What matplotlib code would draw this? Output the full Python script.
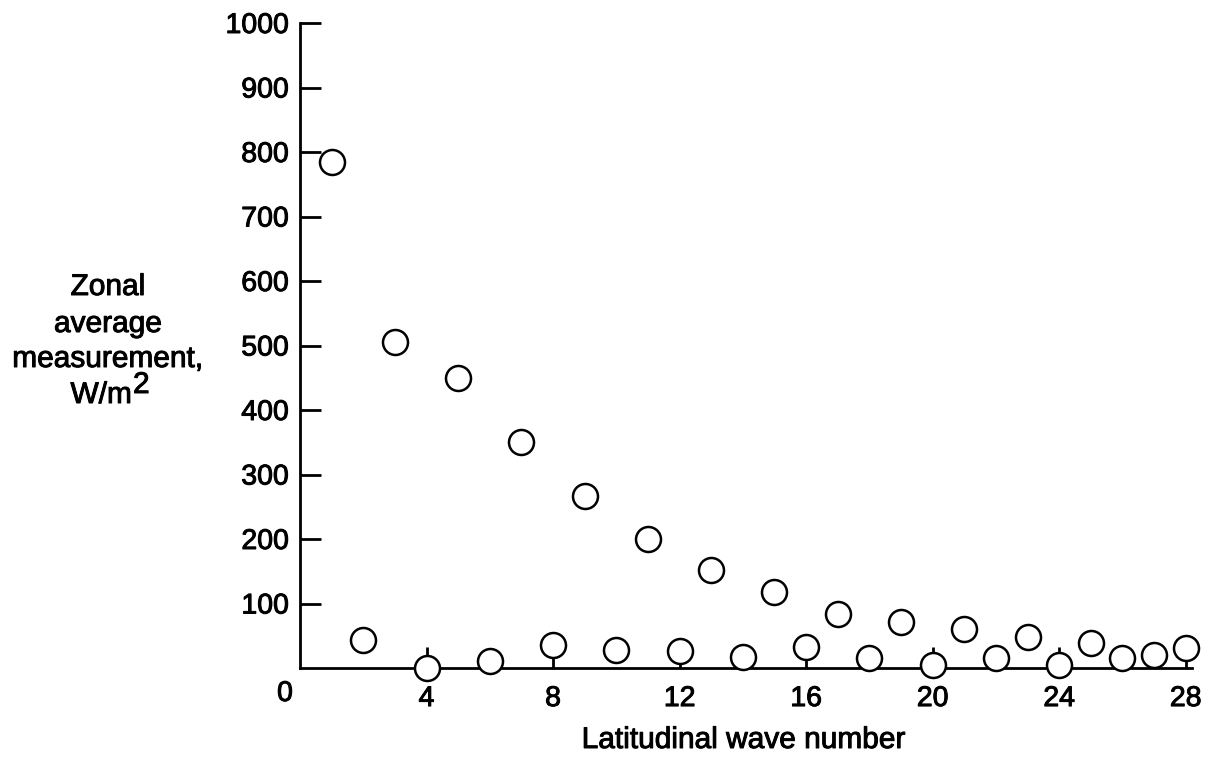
import matplotlib
matplotlib.use("Agg")
import matplotlib.pyplot as plt
import matplotlib.patheffects as pe

wave_number = list(range(1, 29))
measurement = [785, 43, 505, 0, 450, 11, 351, 35, 266, 28, 200, 26, 152, 17,
               118, 32, 83, 15, 71, 5, 60, 15, 48, 5, 38, 15, 20, 31]
x_ticks = [4, 8, 12, 16, 20, 24, 28]
x_tick_labels = ["4", "8", "12", "16", "20", "24", "28"]
y_ticks = [100, 200, 300, 400, 500, 600, 700, 800, 900, 1000]
y_tick_labels = [str(v) for v in y_ticks]

plt.rcParams['font.family'] = ['Liberation Sans', 'DejaVu Sans']
thick = [pe.withStroke(linewidth=0.7, foreground='black')]

W, H = 1227, 768
fig = plt.figure(figsize=(W / 100, H / 100), dpi=100)
left, right, bottom, top = 300, 1192, 668, 23
ax = fig.add_axes([left / W, 1 - bottom / H, (right - left) / W, (bottom - top) / H])

ax.plot(wave_number, measurement, linestyle='none', marker='o', markersize=18,
        markerfacecolor='white', markeredgecolor='black', markeredgewidth=1.8,
        clip_on=False, zorder=3)

ax.set_xlim(0, 28.2)
ax.set_ylim(0, 1000)
for s in ['top', 'right']:
    ax.spines[s].set_visible(False)
for s in ['left', 'bottom']:
    ax.spines[s].set_linewidth(2)

tfs = 20.5
ax.set_xticks(x_ticks)
ax.set_xticklabels(x_tick_labels, fontsize=tfs)
ax.set_yticks(y_ticks)
ax.set_yticklabels(y_tick_labels, fontsize=tfs)
for lbl in ax.get_xticklabels() + ax.get_yticklabels():
    lbl.set_path_effects(thick)
ax.tick_params(axis='y', direction='in', length=15, width=2, pad=8)
ax.tick_params(axis='x', direction='in', length=15, width=2, pad=13)

ax.annotate("0", xy=(0, 0), xycoords='data', xytext=(-15, -13),
            textcoords='offset pixels', ha='center', va='top', fontsize=tfs,
            path_effects=thick)

fig.text(744 / W, 1 - 748 / H, "Latitudinal wave number", ha='center',
         va='baseline', fontsize=21.5, path_effects=thick)

cx = 108 / W
fs = 21.5
fig.text(cx, 1 - 295 / H, "Zonal", ha='center', va='baseline', fontsize=fs, path_effects=thick)
fig.text(cx, 1 - 332 / H, "average", ha='center', va='baseline', fontsize=fs, path_effects=thick)
fig.text(cx, 1 - 367 / H, "measurement,", ha='center', va='baseline', fontsize=fs, path_effects=thick)
fig.text(132 / W, 1 - 403 / H, "W/m", ha='right', va='baseline', fontsize=fs, path_effects=thick)
fig.text(133 / W, 1 - 393 / H, "2", ha='left', va='baseline', fontsize=fs, path_effects=thick)

fig.savefig("out.png", dpi=100)
